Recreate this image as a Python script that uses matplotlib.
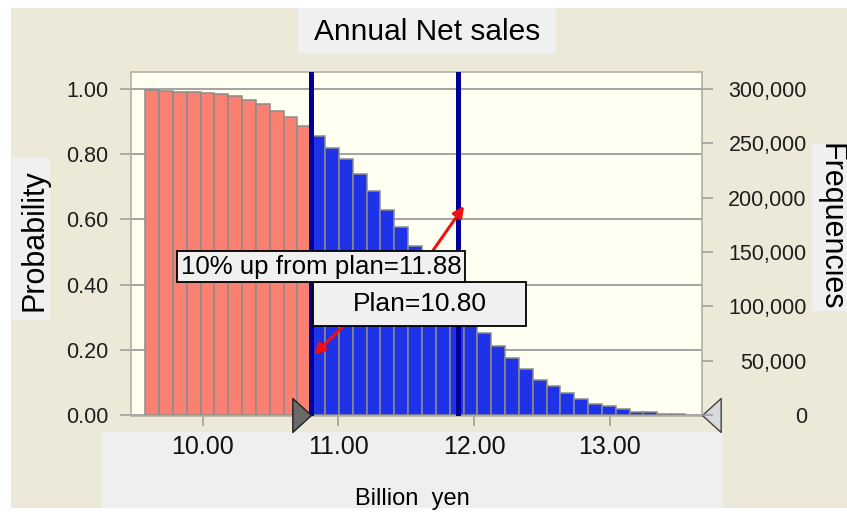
import matplotlib
matplotlib.use("Agg")
import matplotlib.pyplot as plt
import numpy as np
from matplotlib.patches import Rectangle
from matplotlib.path import Path

plt.rcParams['font.family'] = ['Liberation Sans', 'DejaVu Sans']

# ---------------- data ----------------
title = "Annual Net sales"
x_label = "Billion  yen"
y_label_left = "Probability"
y_label_right = "Frequencies"

bin_first_edge = 9.576
bin_width = 0.102
probabilities = [0.997, 0.995, 0.991, 0.991, 0.987, 0.985, 0.979, 0.966, 0.954, 0.933, 0.913, 0.887,
                 0.857, 0.820, 0.784, 0.738, 0.687, 0.629, 0.576, 0.518, 0.464, 0.410, 0.356, 0.302,
                 0.251, 0.212, 0.174, 0.142, 0.108, 0.089, 0.068, 0.050, 0.035, 0.029, 0.017, 0.009,
                 0.008, 0.004, 0.003]

plan_value = 10.80
upside_value = 11.88
plan_label = "Plan=10.80"
upside_label = "10% up from plan=11.88"

x_ticks = [10, 11, 12, 13]
x_tick_labels = ["10.00", "11.00", "12.00", "13.00"]
prob_ticks = [0.0, 0.2, 0.4, 0.6, 0.8, 1.0]
prob_tick_labels = ["0.00", "0.20", "0.40", "0.60", "0.80", "1.00"]
total_trials = 300000
freq_ticks = [0, 50000, 100000, 150000, 200000, 250000, 300000]

# ---------------- figure ----------------
W, H = 847, 512
fig = plt.figure(figsize=(W / 100, H / 100), dpi=100)
fig.patch.set_facecolor('white')


def fx(px):
    return px / W


def fy(py):
    return 1 - py / H


def frect(x0, y0, x1, y1, **kw):
    r = Rectangle((fx(x0), fy(y1)), (x1 - x0) / W, (y1 - y0) / H,
                  transform=fig.transFigure, **kw)
    fig.add_artist(r)
    return r


frect(11, 8, W, 508, facecolor='#ECE9D8', edgecolor='none', zorder=-10)
frect(102, 432, 723, 508, facecolor='#EFEFEF', edgecolor='none', zorder=-9)

ax = fig.add_axes([fx(130.7), fy(416), (701.7 - 130.7) / W, (416 - 71.7) / H])
ax.set_facecolor('#FFFFF2')

xlim = (9.4694, 13.677)
ylim = (-0.003, 1.053)

edges = bin_first_edge + bin_width * np.arange(len(probabilities))
colors = ['#FA8072' if e + bin_width <= plan_value + 1e-9 else '#1E32E8' for e in edges]
ax.bar(edges, probabilities, width=bin_width, align='edge', color=colors,
       edgecolor='#8C8C8C', linewidth=1.1, zorder=2)

ax.axvline(plan_value, color='#000099', lw=3.6, zorder=3)
ax.axvline(upside_value, color='#000099', lw=3.6, zorder=3)

ax.set_xlim(*xlim)
ax.set_ylim(*ylim)
ax.set_yticks(prob_ticks)
ax.set_yticklabels(prob_tick_labels)
ax.set_xticks(x_ticks)
ax.set_xticklabels(x_tick_labels)
ax.yaxis.grid(True, color='#9C9C9C', lw=1.3)
ax.set_axisbelow(True)
for s in ax.spines.values():
    s.set_color('#B4B0A0')
    s.set_linewidth(1.2)
ax.tick_params(axis='y', length=7.7, width=1.1, color='#9A9A9A', pad=8.6,
               labelsize=15.5, labelcolor='#1E1E1E')
ax.tick_params(axis='x', length=7.5, width=1.1, color='#9A9A9A', pad=6.0,
               labelsize=18, labelcolor='#111111')

ax2 = ax.twinx()
ax2.set_ylim(ylim[0] * total_trials, ylim[1] * total_trials)
ax2.set_yticks(freq_ticks)
ax2.set_yticklabels([f"{v:,}" for v in freq_ticks])
ax2.tick_params(axis='y', length=8, width=1.1, color='#9A9A9A', pad=67.7,
                labelsize=15.5, labelcolor='#1E1E1E')
for lab in ax2.get_yticklabels():
    lab.set_horizontalalignment('right')
for s in ax2.spines.values():
    s.set_visible(False)

# slider triangles
tri_right = Path([(-1.1, 1), (0, 0), (-1.1, -1), (-1.1, 1)],
                 [Path.MOVETO, Path.LINETO, Path.LINETO, Path.CLOSEPOLY])
tri_left = Path([(1.1, 1), (0, 0), (1.1, -1), (1.1, 1)],
                [Path.MOVETO, Path.LINETO, Path.LINETO, Path.CLOSEPOLY])
ax.plot([plan_value], [0], marker=tri_right, ms=26.9, mfc='#6A6A6A', mec='#202020',
        mew=1.0, clip_on=False, zorder=6, ls='none')
ax.plot([xlim[1]], [0], marker=tri_left, ms=26.9, mfc='#DADADA', mec='#404040',
        mew=1.0, clip_on=False, zorder=6, ls='none')

# arrows
ax.annotate('', xy=(11.926, 0.641), xytext=(11.699, 0.506),
            arrowprops=dict(arrowstyle='-|>', color='#F01010', lw=2.2,
                            mutation_scale=16, shrinkA=0, shrinkB=0), zorder=7)
ax.annotate('', xy=(10.820, 0.184), xytext=(11.036, 0.273),
            arrowprops=dict(arrowstyle='-|>', color='#F01010', lw=2.2,
                            mutation_scale=16, shrinkA=0, shrinkB=0), zorder=7)

# annotation boxes
frect(313.3, 281.7, 526, 326, facecolor='#F0F0F0', edgecolor='black', lw=1.3, zorder=20)
fig.text(fx(419.5), fy(304), plan_label, ha='center', va='center', fontsize=19, zorder=21)
frect(177.3, 250.7, 465, 281.7, facecolor='#F0F0F0', edgecolor='black', lw=1.3, zorder=22)
fig.text(fx(321), fy(267), upside_label, ha='center', va='center', fontsize=18.6, zorder=23)

# title and axis labels
frect(298, 8, 556, 53, facecolor='#F0F0F0', edgecolor='none', zorder=-8)
fig.text(fx(427.5), fy(32), title, ha='center', va='center', fontsize=21.5)

frect(12, 158, 50, 320, facecolor='#F0F0F0', edgecolor='none', zorder=-8)
fig.text(fx(35), fy(240), y_label_left, ha='center', va='center', rotation=90, fontsize=22)

frect(812, 144, 847, 311, facecolor='#F0F0F0', edgecolor='none', zorder=-8)
fig.text(fx(830), fy(227), y_label_right, ha='center', va='center', rotation=270, fontsize=22)

fig.text(fx(412.5), fy(487.5), x_label, ha='center', va='top', fontsize=17)

fig.savefig("out.png", dpi=100, facecolor=fig.get_facecolor())
